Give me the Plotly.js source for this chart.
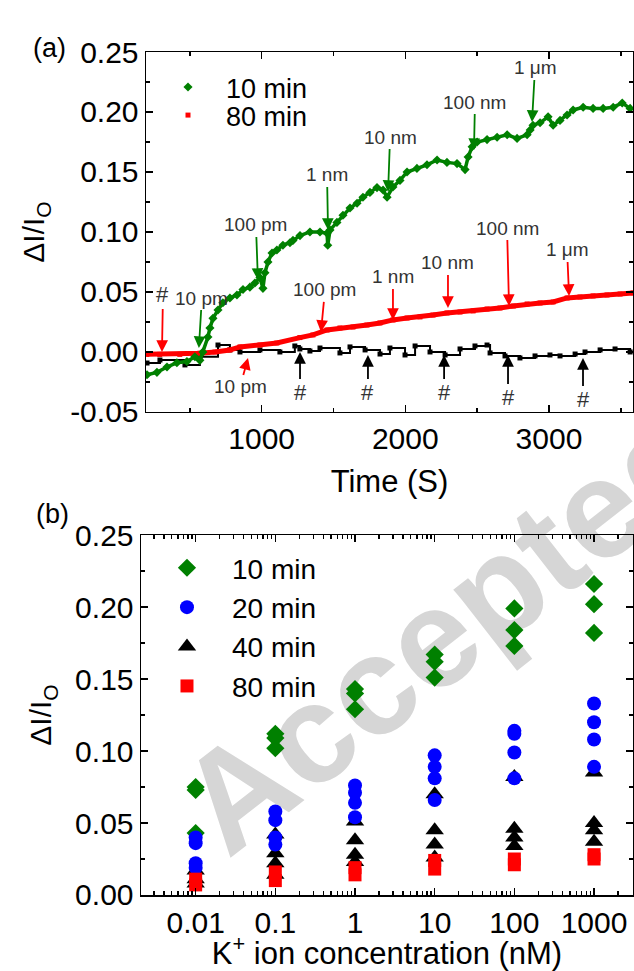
<!DOCTYPE html>
<html><head><meta charset="utf-8">
<script src="https://cdn.plot.ly/plotly-3.0.1.min.js"></script>
<style>html,body{margin:0;padding:0;background:#fff}</style>
</head><body><div id="chart" style="width:634px;height:971px"></div>
<script>
// ---------- Panel (a): time traces ----------
const tGreen = [202,271,341,410,480,535,570,591,626,640,661,696,730,779,828,870,918,953,988,1009,1023,1044,1072,1106,1148,1197,1218,1267,1336,1406,1455,1460,1476,1524,1566,1615,1664,1705,1754,1803,1845,1873,1914,1963,2012,2081,2151,2221,2290,2360,2416,2437,2465,2500,2569,2639,2709,2778,2848,2869,2889,2938,2994,3029,3077,3126,3168,3238,3307,3377,3447,3510,3565];
const vGreen = [-0.019,-0.017,-0.0125,-0.009,-0.008,-0.004,-0.007,0.0,0.0125,0.020,0.028,0.035,0.041,0.045,0.0475,0.052,0.054,0.0575,0.062,0.053,0.066,0.075,0.0825,0.085,0.089,0.091,0.093,0.097,0.100,0.100,0.099,0.089,0.1017,0.108,0.114,0.120,0.124,0.129,0.133,0.137,0.135,0.129,0.1375,0.143,0.150,0.153,0.156,0.160,0.158,0.157,0.152,0.1625,0.171,0.175,0.177,0.179,0.181,0.178,0.181,0.185,0.189,0.191,0.196,0.189,0.193,0.1975,0.2017,0.204,0.203,0.203,0.204,0.2075,0.203];

const tRed = [200,290,430,570,675,779,849,988,1106,1266,1357,1455,1545,1636,1733,1824,1914,2012,2102,2193,2290,2381,2472,2569,2659,2752,2848,2938,3029,3126,3216,3307,3404,3495,3585];
const vRed = [-0.002,-0.002,-0.002,-0.001,0.0,0.0017,0.0042,0.0058,0.0075,0.012,0.0142,0.0183,0.020,0.0208,0.0225,0.0242,0.0267,0.0283,0.0292,0.0308,0.0325,0.0333,0.0342,0.0358,0.0367,0.0383,0.040,0.0408,0.0417,0.045,0.0458,0.0467,0.0475,0.0483,0.0492];

const tBlack = [202,292,466,570,696,779,849,988,1127,1231,1266,1336,1406,1545,1615,1720,1824,1893,1998,2068,2172,2277,2381,2485,2569,2590,2694,2798,2903,3007,3077,3182,3251,3356,3460,3565];
const vBlack = [-0.0092,-0.0067,-0.0108,-0.004,0.0058,0.0017,0.0,0.0017,0.0,0.005,0.0025,0.0008,0.0033,-0.0008,0.0042,0.0017,-0.0017,0.0033,-0.0025,0.005,0.0,-0.0025,0.0025,0.005,0.0058,-0.0008,-0.0033,-0.005,-0.0033,-0.0025,-0.0033,-0.0017,0.0,0.0017,0.0025,0.0];

const yTicksA = [-0.05,0,0.05,0.10,0.15,0.20,0.25];
const yTickTextA = ['-0.05','0.00','0.05','0.10','0.15','0.20','0.25'];
const xTicksA = [1000,2000,3000];

// ---------- Panel (b): concentration response ----------
const concentrations = [0.01,0.1,1,10,100,1000];
const concLabels = ['0.01','0.1','1','10','100','1000'];
const min10 = [[0.075,0.073,0.043],[0.112,0.109,0.102],[0.143,0.140,0.129],[0.167,0.162,0.151],[0.199,0.184,0.173],[0.216,0.202,0.182]];
const min20 = [[0.040,0.036,0.022,0.019],[0.058,0.052,0.040,0.035],[0.076,0.071,0.064,0.054],[0.097,0.089,0.081,0.066],[0.114,0.112,0.099,0.081],[0.133,0.120,0.108,0.089]];
const min40 = [[0.017,0.011,0.008],[0.042,0.029,0.022,0.014],[0.051,0.038,0.028,0.023],[0.070,0.045,0.035,0.026],[0.082,0.046,0.040,0.034],[0.085,0.050,0.045,0.037]];
const min80 = [[0.011,0.007],[0.016,0.010],[0.019,0.014],[0.024,0.018],[0.025,0.021],[0.028,0.025]];
const yTicksB = [0,0.05,0.10,0.15,0.20,0.25];
const yTickTextB = ['0.00','0.05','0.10','0.15','0.20','0.25'];

function flat(groups){
  const x=[],y=[];
  groups.forEach((g,i)=>g.forEach(v=>{x.push(concentrations[i]);y.push(v);}));
  return {x,y};
}

const FONT = 'Liberation Sans, Arial, sans-serif';
const GREEN = '#008000', RED = '#ff0000', BLUE = '#0000ff';

const traces = [
  // panel a
  {x:tBlack,y:vBlack,mode:'lines+markers',line:{color:'black',width:2,shape:'hv'},marker:{symbol:'square',size:5,color:'black'},showlegend:false,xaxis:'x',yaxis:'y'},
  {x:tRed,y:vRed,mode:'lines',line:{color:RED,width:5},showlegend:false,xaxis:'x',yaxis:'y'},
  {x:tRed,y:vRed,mode:'markers',name:'80 min',marker:{symbol:'square',size:5,color:RED},legend:'legend3',xaxis:'x',yaxis:'y'},
  {x:tGreen,y:vGreen,mode:'lines',line:{color:GREEN,width:3.5},showlegend:false,xaxis:'x',yaxis:'y'},
  {x:tGreen,y:vGreen,mode:'markers',name:'10 min',marker:{symbol:'diamond',size:7,color:GREEN},legend:'legend',xaxis:'x',yaxis:'y'},
  // panel b
  Object.assign(flat(min10),{mode:'markers',name:'10 min',legendrank:1,marker:{symbol:'diamond',size:14,color:GREEN},legend:'legend2',xaxis:'x2',yaxis:'y2'}),
  Object.assign(flat(min40),{mode:'markers',name:'40 min',legendrank:3,marker:{symbol:'triangle-up',size:16,color:'black'},legend:'legend2',xaxis:'x2',yaxis:'y2'}),
  Object.assign(flat(min20),{mode:'markers',name:'20 min',legendrank:2,marker:{symbol:'circle',size:14,color:BLUE},legend:'legend2',xaxis:'x2',yaxis:'y2'}),
  Object.assign(flat(min80),{mode:'markers',name:'80 min',legendrank:4,marker:{symbol:'square',size:13,color:RED},legend:'legend2',xaxis:'x2',yaxis:'y2'})
];

const axBase = {showline:true,linecolor:'black',linewidth:1.5,mirror:'ticks',ticks:'inside',ticklen:7,tickwidth:1.5,tickcolor:'black',
  showgrid:false,zeroline:false,automargin:false,tickfont:{family:FONT,size:30,color:'black'}};
const minorLin = (d)=>({dtick:d,tick0:0,ticks:'inside',ticklen:4,tickwidth:1.5,tickcolor:'black',showgrid:false});

// arrow annotations: [text, time, value, ax, ay, colour]
const arrowSpecs = [
  ['10 pm',563,0.0033,3,-50,GREEN],['100 pm',974,0.060,-2,-55,GREEN],['1 nm',1462,0.1017,-1,-55,GREEN],
  ['10 nm',1880,0.1333,2,-55,GREEN],['100 nm',2478,0.1683,1,-48,GREEN],['1 \u03bcm',2882,0.1917,3,-54,GREEN],
  ['#',306,0.0,1,-57,RED],['10 pm',905,-0.005,-8,29,RED],['100 pm',1413,0.0167,4,-42,RED],['1 nm',1914,0.0267,0,-43,RED],
  ['10 nm',2297,0.0367,0,-45,RED],['100 nm',2722,0.0383,-2,-78,RED],['1 \u03bcm',3140,0.0467,-2,-46,RED],
  ['#',1267,0.0,0,41,'black'],['#',1740,-0.0025,0,38,'black'],['#',2270,-0.0025,0,38,'black'],['#',2715,-0.0025,0,43,'black'],['#',3237,-0.005,0,42,'black']
];
const annotations = arrowSpecs.map(s=>({x:s[1],y:s[2],xref:'x',yref:'y',text:s[0],showarrow:true,ax:s[3],ay:s[4],
  arrowcolor:s[5],arrowhead:2,arrowsize:1.3,arrowwidth:1.8,standoff:0,startstandoff:0,
  font:{family:FONT,size:s[0]==='#'?22:19,color:'#333'}}));
annotations.push({xref:'paper',yref:'paper',x:-0.2236,y:1.0249,text:'(a)',showarrow:false,font:{family:FONT,size:27,color:'black'}});
annotations.push({xref:'paper',yref:'paper',x:-0.2175,y:0.452,text:'(b)',showarrow:false,font:{family:FONT,size:27,color:'black'}});

const layout = {
  width:634,height:971,margin:{l:141,r:1,t:52,b:76},paper_bgcolor:'white',plot_bgcolor:'rgba(0,0,0,0)',
  font:{family:FONT,color:'black'},
  xaxis:Object.assign({},axBase,{domain:[0.0102,1],anchor:'y',range:[195,3585],tickmode:'array',tickvals:xTicksA,
    minor:minorLin(500),title:{text:'Time (S)',font:{family:FONT,size:31},standoff:16}}),
  yaxis:Object.assign({},axBase,{domain:[0.573,1],anchor:'x',range:[-0.05,0.25],tickmode:'array',tickvals:yTicksA,ticktext:yTickTextA,
    minor:minorLin(0.025),title:{text:'\u0394I/I<sub>O</sub>',font:{family:FONT,size:30},standoff:16}}),
  xaxis2:Object.assign({},axBase,{domain:[0,1],anchor:'y2',type:'log',range:[-2.686,3.489],tickmode:'array',tickvals:concentrations,ticktext:concLabels,
    minor:{ticks:'inside',ticklen:4,tickwidth:1.5,tickcolor:'black',dtick:'D1',showgrid:false},
    title:{text:'K<sup>+</sup> ion concentration (nM)',font:{family:FONT,size:31},standoff:8}}),
  yaxis2:Object.assign({},axBase,{domain:[0,0.427],anchor:'x2',range:[0,0.25],tickmode:'array',tickvals:yTicksB,ticktext:yTickTextB,
    minor:minorLin(0.025),title:{text:'\u0394I/I<sub>O</sub>',font:{family:FONT,size:30},standoff:14}}),
  legend:{x:0.0183,y:0.987,xanchor:'left',yanchor:'top',bgcolor:'rgba(0,0,0,0)',itemwidth:66,font:{family:FONT,size:27}},
  legend3:{x:0.0183,y:0.9537,xanchor:'left',yanchor:'top',bgcolor:'rgba(0,0,0,0)',itemwidth:66,font:{family:FONT,size:27}},
  legend2:{x:0.002,y:0.4175,xanchor:'left',yanchor:'top',bgcolor:'rgba(0,0,0,0)',itemwidth:80,font:{family:FONT,size:28}},
  annotations:annotations,
  shapes:[{type:'rect',xref:'paper',yref:'paper',x0:1.235,x1:1.244,y0:0.615,y1:0.623,layer:'below',line:{width:0},fillcolor:'rgba(0,0,0,0)',
    label:{text:'Accepted manuscript',textangle:-38,font:{family:FONT,size:140,color:'#d6d6d6',weight:'bold'}}}]
};

Plotly.newPlot('chart',traces,layout,{displayModeBar:false,staticPlot:true});
</script></body></html>
